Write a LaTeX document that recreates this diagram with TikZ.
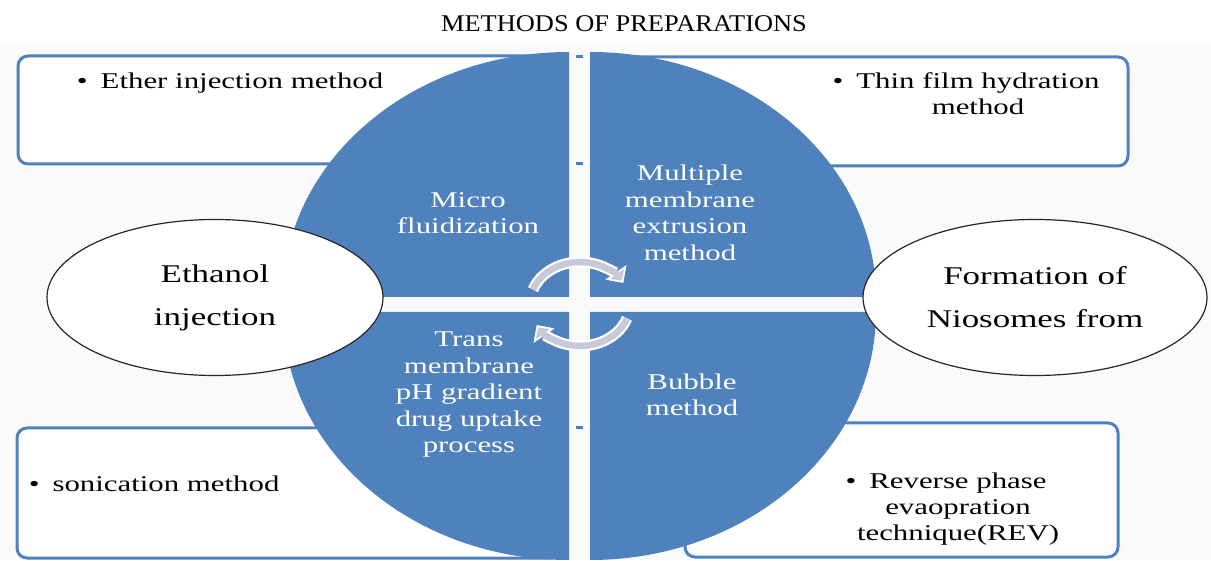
\documentclass[tikz,border=0pt]{standalone}
\usepackage{fontspec}
\setmainfont{Liberation Serif}
\newfontfamily\smartfont[FakeStretch=1.37]{Liberation Serif}
\newfontfamily\headfont[FakeStretch=1.1]{Liberation Serif}
\usetikzlibrary{shapes.geometric,arrows.meta}
\definecolor{pieblue}{RGB}{79,129,189}
\definecolor{arrowgrey}{RGB}{198,201,218}
\definecolor{panel}{RGB}{250,250,250}
\newcommand{\bulletline}[1]{\begin{tabular}[t]{@{}c@{}}\llap{\textbullet\hspace{13pt}}#1\end{tabular}}

\begin{document}
\begin{tikzpicture}[x=1pt, y=1pt,
  methodbox/.style={draw=pieblue, line width=3pt, fill=white, rounded corners=10pt},
  boxtext/.style={anchor=base, inner sep=0pt, font=\smartfont\fontsize{22.5}{26}\selectfont},
  quadtext/.style={text=white, align=center, inner sep=0pt, font=\smartfont\fontsize{22.5}{26.5}\selectfont},
  oval/.style={ellipse, draw=black!85, line width=1.2pt, fill=white, minimum width=336pt, minimum height=156pt, inner sep=0pt, align=center, font=\smartfont\fontsize{25.5}{43}\selectfont},
  turnback/.style={draw=white, line width=11pt, -{Triangle[width=25pt,length=13pt]}},
  turnfront/.style={draw=arrowgrey, line width=6.5pt, shorten >=3pt, -{Triangle[width=17pt,length=8pt]}}]
\useasboundingbox (0,0) rectangle (1211,560);
\fill[white] (0,0) rectangle (1211,560);
\fill[panel] (0,0) rectangle (1211,517);

\node[font=\headfont\fontsize{24}{28}\selectfont, anchor=base] (title) at (624,528) {METHODS OF PREPARATIONS};

\draw[methodbox] (18,396) rectangle (560,504);
\draw[methodbox] (600,394) rectangle (1128,503);
\draw[methodbox] (17,2) rectangle (560,132);
\draw[methodbox] (685,3) rectangle (1118,137);

\node[boxtext] (ether) at (242,471) {\bulletline{Ether injection method}};
\node[boxtext] (thinfilm) at (978,471) {\bulletline{Thin film hydration\\method}};
\node[boxtext] (sonication) at (166,68) {\bulletline{sonication method}};
\node[boxtext] (reverse) at (958,71) {\bulletline{Reverse phase\\evaopration\\technique(REV)}};

\fill[pieblue] (569,263) -- (283,263) arc[start angle=180, end angle=90, x radius=286pt, y radius=245pt] -- cycle;
\fill[pieblue] (590,263) -- (590,508) arc[start angle=90, end angle=0, x radius=286pt, y radius=245pt] -- cycle;
\fill[pieblue] (569,248) -- (569,0) arc[start angle=270, end angle=180, x radius=286pt, y radius=248pt] -- cycle;
\fill[pieblue] (590,248) -- (876,248) arc[start angle=0, end angle=-90, x radius=286pt, y radius=248pt] -- cycle;

\draw[pieblue, line width=3pt] (576,503) -- (583,503);
\draw[pieblue, line width=3pt] (576,396) -- (583,396);
\draw[pieblue, line width=3pt] (576,132) -- (583,132);

\node[quadtext] (micro) at (468,347) {Micro\\fluidization};
\node[quadtext] (multiple) at (690,347) {Multiple\\membrane\\extrusion\\method};
\node[quadtext] (trans) at (469,165) {Trans\\membrane\\pH gradient\\drug uptake\\process};
\node[quadtext] (bubble) at (692,165) {Bubble\\method};

\coordinate (hub) at (580,256);
\draw[turnback] (hub) ++(160:50pt and 42pt) arc[start angle=160, end angle=30, x radius=50pt, y radius=42pt];
\draw[turnfront] (hub) ++(160:50pt and 42pt) arc[start angle=160, end angle=30, x radius=50pt, y radius=42pt];
\draw[turnback] (hub) ++(-20:50pt and 42pt) arc[start angle=-20, end angle=-150, x radius=50pt, y radius=42pt];
\draw[turnfront] (hub) ++(-20:50pt and 42pt) arc[start angle=-20, end angle=-150, x radius=50pt, y radius=42pt];

\node[oval] (ethanol) at (215,262.5) {Ethanol\\injection};
\node[oval, minimum width=344pt] (formation) at (1035,262.5) {Formation of\\Niosomes from};
\end{tikzpicture}
\end{document}
